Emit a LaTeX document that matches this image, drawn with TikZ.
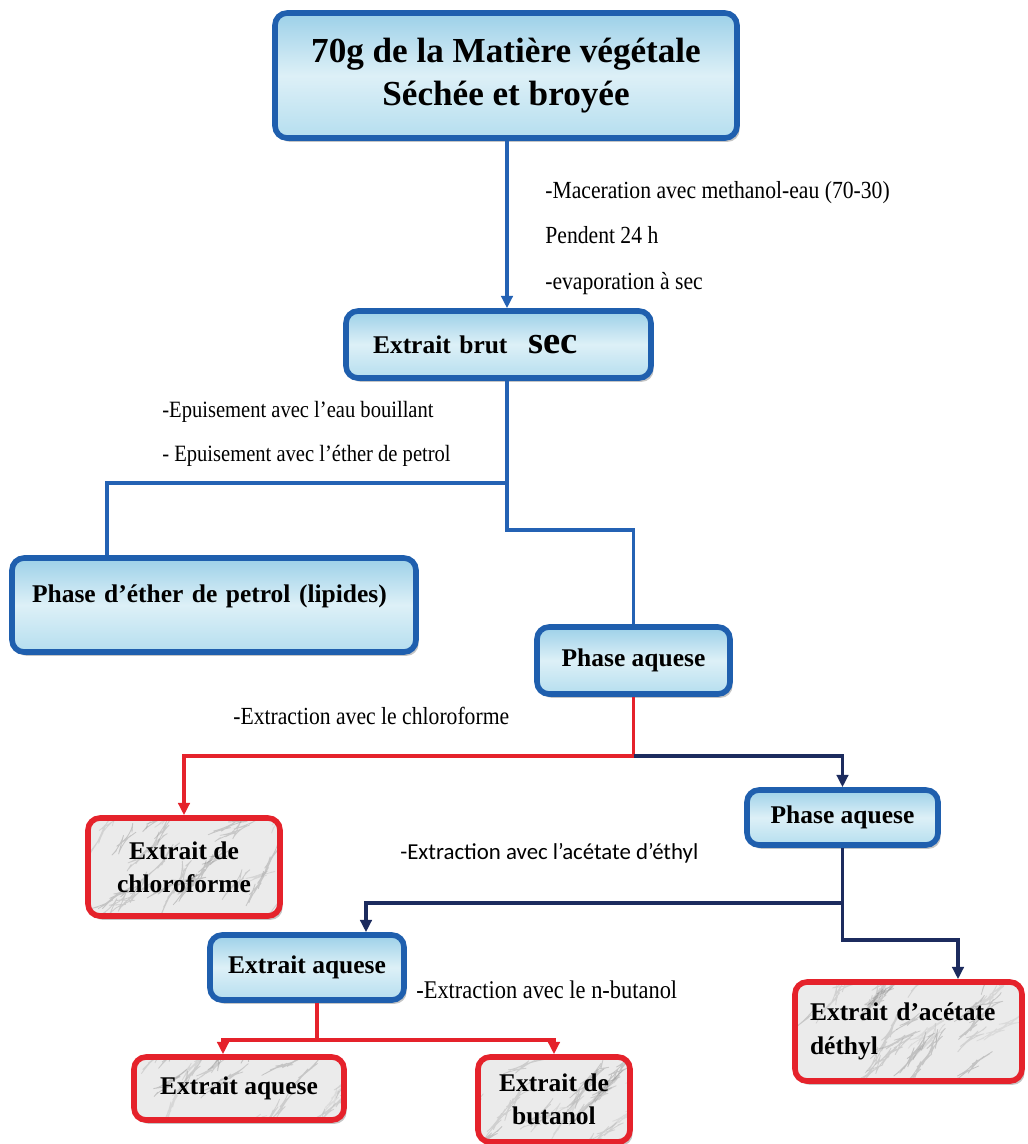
\documentclass[tikz,border=0pt]{standalone}
\usepackage{fontspec}
\setmainfont{Liberation Serif}
\newfontfamily\condfont[FakeStretch=0.88]{Liberation Serif}
\newfontfamily\califont{Carlito}
\usetikzlibrary{calc,arrows.meta,shadows,decorations.pathmorphing}
\definecolor{boxblue}{HTML}{1F5FAE}
\definecolor{lineblue}{HTML}{2462B4}
\definecolor{navyx}{HTML}{1C2B5E}
\definecolor{redx}{HTML}{E5222B}
\definecolor{skytop}{HTML}{9CD0E8}
\definecolor{skymid}{HTML}{DDF0F7}
\definecolor{skybot}{HTML}{B5DEEF}
\definecolor{marblebg}{HTML}{EBEBEB}
\tikzset{
  bluebox/.style={draw=boxblue,line width=3.2pt,rounded corners=0.24cm,top color=skytop,bottom color=skybot,middle color=skymid,font=\fontsize{14.5}{19}\selectfont\bfseries,align=center,inner sep=0pt,drop shadow={opacity=0.45,shadow xshift=1.5pt,shadow yshift=-2.2pt}},
  redbox/.style={draw=redx,line width=3.2pt,rounded corners=0.24cm,fill=marblebg,font=\fontsize{14.5}{19}\selectfont\bfseries,align=center,inner sep=0pt,drop shadow={opacity=0.45,shadow xshift=1.5pt,shadow yshift=-2.2pt},
    path picture={\foreach \v in {1,...,26}{
      \pgfmathsetmacro\mx{240*rnd-120}\pgfmathsetmacro\my{110*rnd-55}
      \pgfmathsetmacro\ma{-65+45*rnd}\pgfmathsetmacro\ml{20+45*rnd}
      \pgfmathsetmacro\mg{25+30*rnd}
      \draw[black!\mg,opacity=0.35,line width=0.45pt,decorate,decoration={random steps,segment length=3pt,amplitude=1pt}]
        ($(path picture bounding box.center)+(\mx,\my)$) -- ++(\ma:\ml);}}},
  lbl/.style={font=\condfont\fontsize{14}{25.8}\selectfont,align=left,anchor=west,inner sep=0pt},
  ln/.style={line width=2.1pt},
  ar/.style={-{Triangle[length=7pt,width=6.5pt]},line width=2.1pt}
}
\pgfmathsetseed{7}
\begin{document}
\begin{tikzpicture}[x=0.02cm,y=-0.02cm]
\useasboundingbox[fill=white] (0,0) rectangle (1028,1144);
\node[bluebox,minimum width=9.24cm,minimum height=2.5cm,font=\fontsize{20}{24}\selectfont\bfseries] (mat) at (506,75.5) {70g de la Matière végétale\\Séchée et broyée};
\node[bluebox,minimum width=6.1cm,minimum height=1.34cm,text width=5.02cm,align=left] (brut) at (498.5,344.5) {Extrait brut\hspace{12pt}{\fontsize{22}{24}\selectfont sec}};
\node[bluebox,minimum width=8.08cm,minimum height=1.88cm,text width=7.28cm,align=left,text depth=12.5pt] (ether) at (214,605) {Phase d’éther de petrol (lipides)};
\node[bluebox,minimum width=3.86cm,minimum height=1.34cm] (aqa) at (633.5,660.5) {Phase aquese};
\node[bluebox,minimum width=3.82cm,minimum height=1.1cm] (aqb) at (842.5,817.5) {Phase aquese};
\node[bluebox,minimum width=3.88cm,minimum height=1.3cm] (aqc) at (307,967.5) {Extrait aquese};
\node[redbox,minimum width=3.84cm,minimum height=1.96cm] (chl) at (184,867) {Extrait de\\chloroforme};
\node[redbox,minimum width=4.54cm,minimum height=1.98cm,text width=3.94cm,align=left] (acy) at (908.5,1031.5) {Extrait d’acétate\\déthyl};
\node[redbox,minimum width=4.2cm,minimum height=1.26cm] (aqd) at (239,1088.5) {Extrait aquese};
\node[redbox,minimum width=3.04cm,minimum height=1.7cm] (but) at (554,1099.5) {Extrait de\\butanol};

\node[lbl] (macer) at (545,238) {-Maceration avec methanol-eau (70-30)\\Pendent 24 h\\-evaporation à sec};
\node[lbl,font=\condfont\fontsize{13.3}{25}\selectfont] (epuis) at (162,434) {-Epuisement avec l’eau bouillant\\- Epuisement avec l’éther de petrol};
\node[lbl] (chlx) at (233,716) {-Extraction avec le chloroforme};
\node[lbl,font=\califont\fontsize{13}{16}\selectfont] (acex) at (400,853) {-Extraction avec l’acétate d’éthyl};
\node[lbl,font=\condfont\fontsize{14.5}{17}\selectfont] (butx) at (416,990) {-Extraction avec le n-butanol};

\coordinate (ja) at (507,483);
\coordinate (jb) at (107,483);
\coordinate (jc) at (507,530);
\coordinate (jd) at (633.5,756);
\coordinate (je) at (842.5,903);
\coordinate (jf) at (366,903);
\coordinate (jg) at (842.5,940);
\coordinate (jh) at (958,940);
\coordinate (ji) at (317,1040);
\coordinate (jk) at (223,1040);

\draw[ar,lineblue] (mat.south -| ja) -- (brut.north -| ja);
\draw[ln,lineblue] (brut.south -| ja) -- (ja) -- (jb) -- (jb |- ether.north);
\draw[ln,lineblue] (ja) -- (jc) -| (aqa.north);
\draw[ln,redx] (aqa.south) -- (jd);
\draw[ar,redx] (jd) -| (chl.north);
\draw[ar,navyx] (jd) -| (aqb.north);
\draw[ar,navyx] (aqb.south) -- (jg) -- (jh) -- (jh |- acy.north);
\draw[ar,navyx] (je) -- (jf) -- (jf |- aqc.north);
\draw[ln,redx] (aqc.south -| ji) -- (ji);
\draw[ar,redx] (ji) -- (jk) -- (jk |- aqd.north);
\draw[ar,redx] (ji) -| (but.north);
\end{tikzpicture}
\end{document}
